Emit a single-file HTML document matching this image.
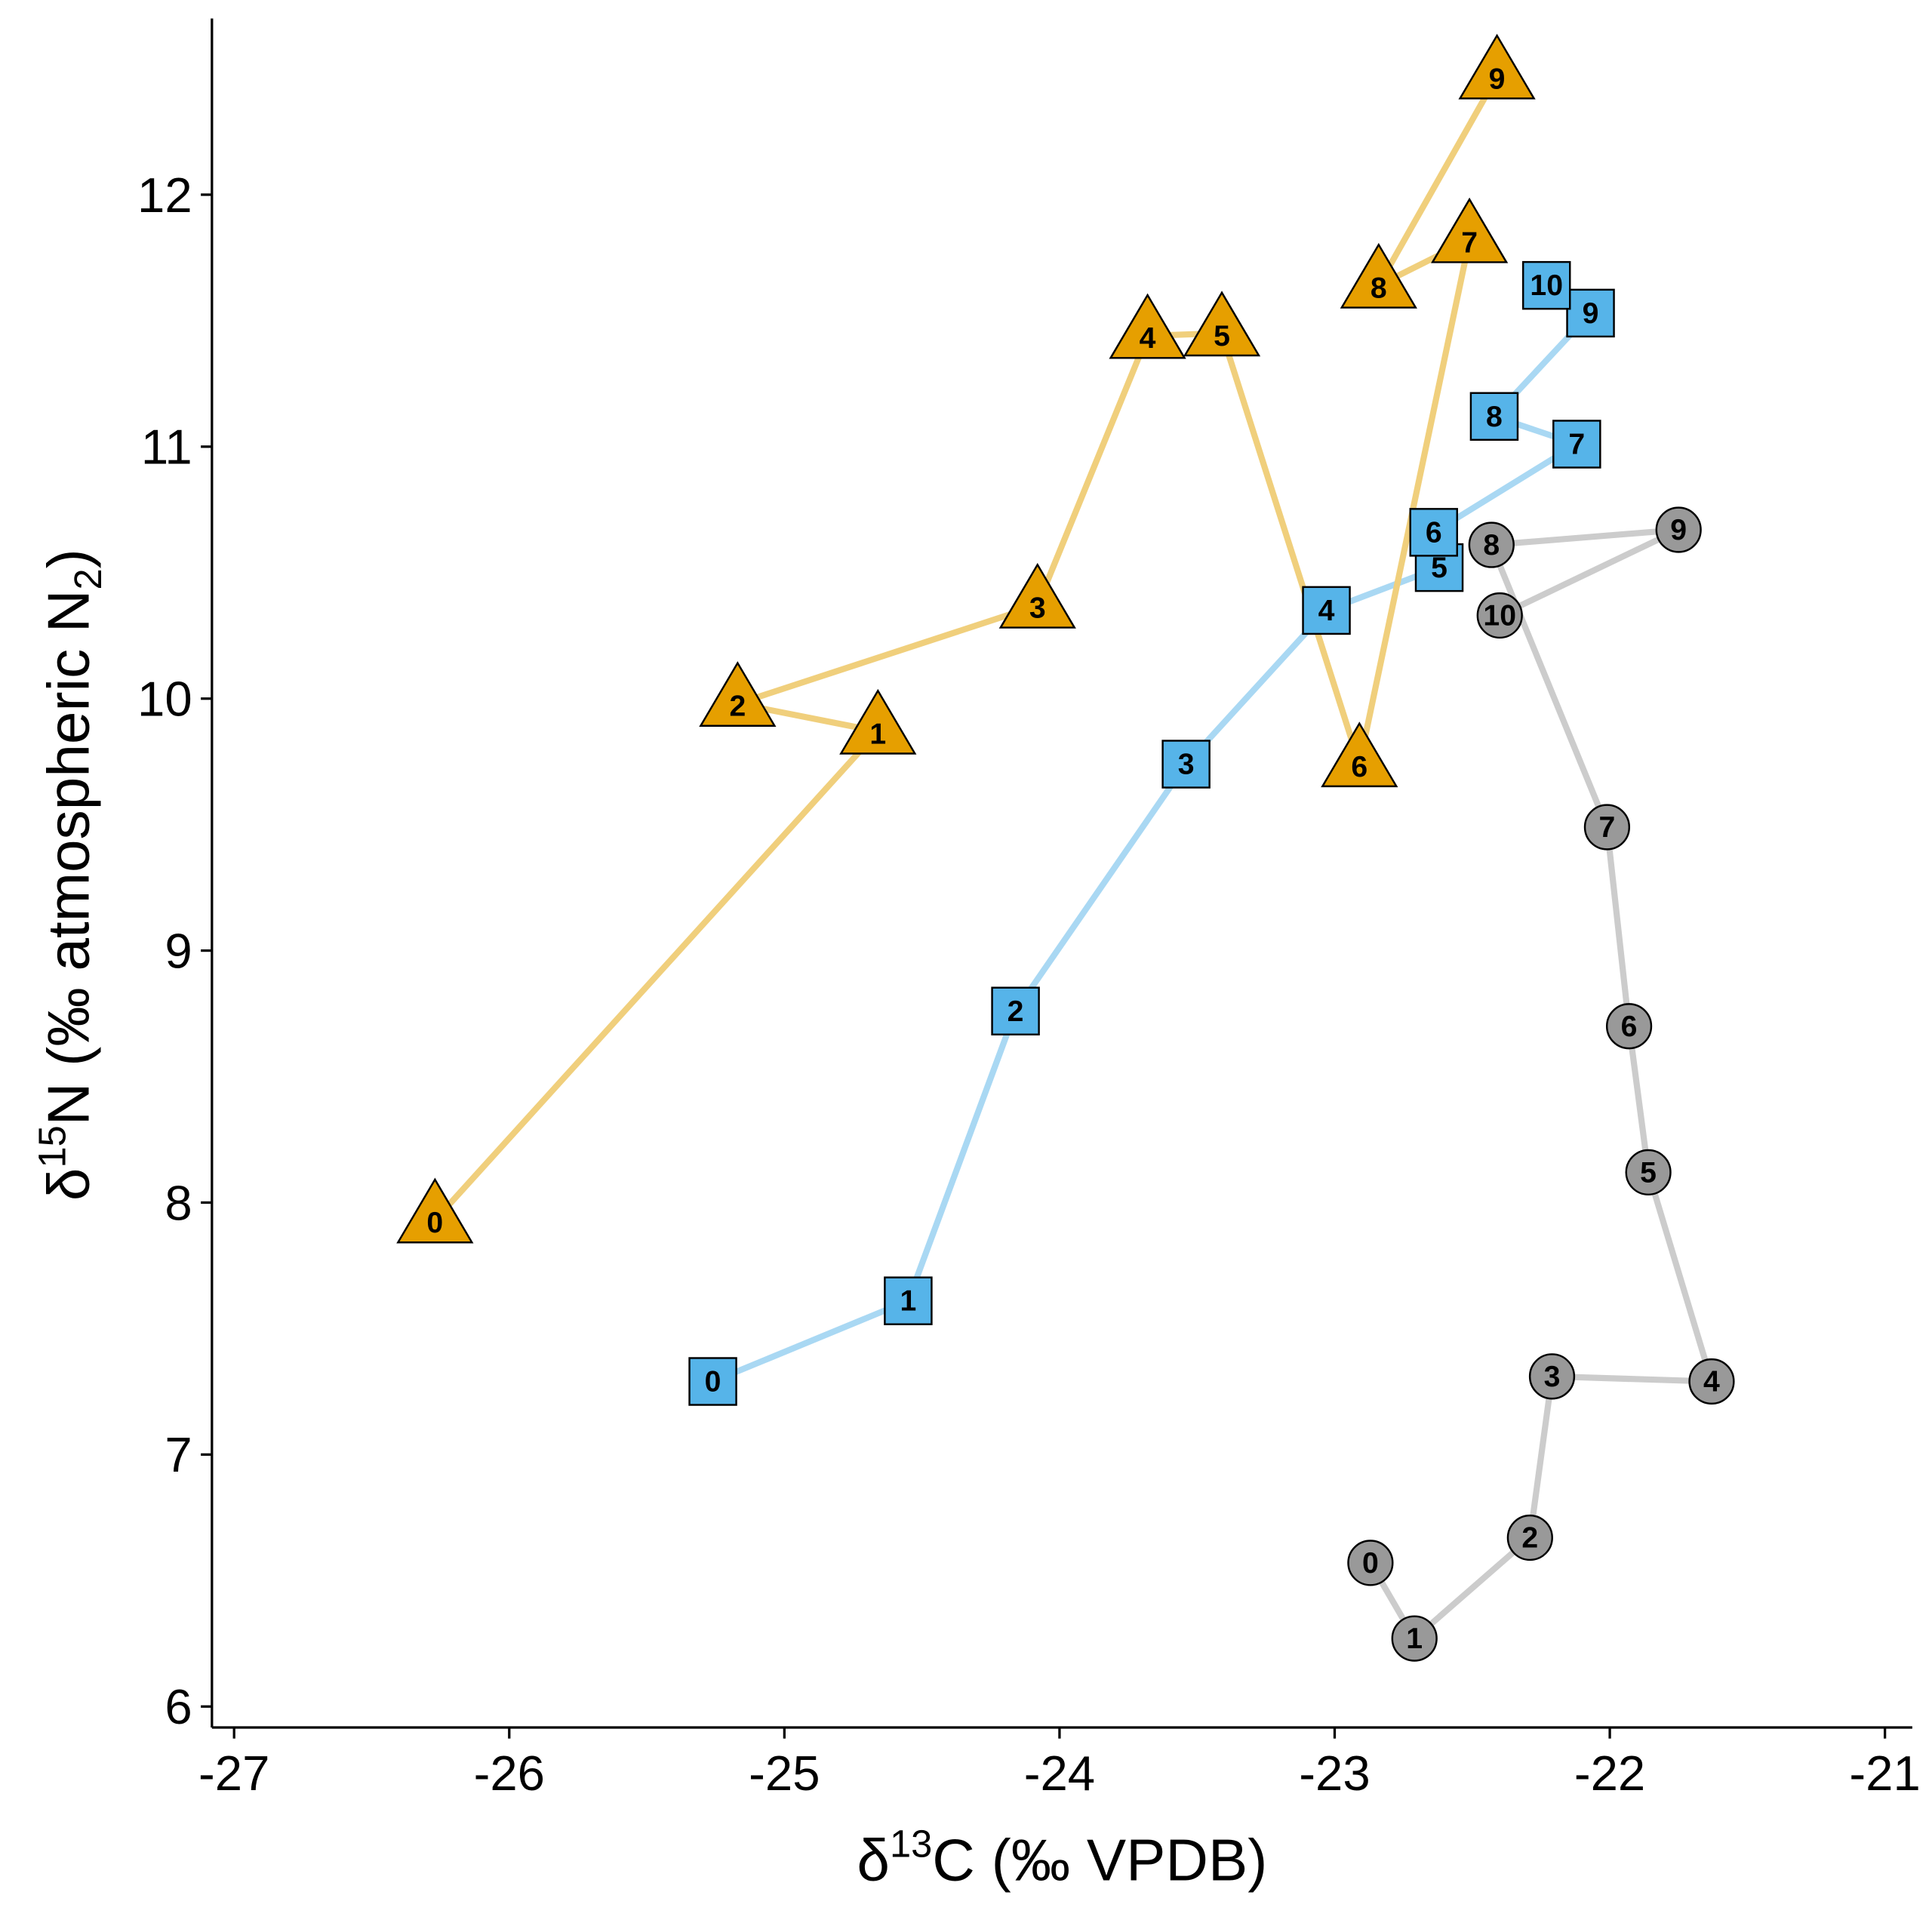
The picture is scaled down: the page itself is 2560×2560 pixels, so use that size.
<!DOCTYPE html>
<html><head><meta charset="utf-8"><style>
html,body{margin:0;padding:0;background:#fff}
svg{display:block}
text{font-family:"Liberation Sans",sans-serif}
</style></head><body>
<svg id="chart" width="2560" height="2560" viewBox="0 0 1568 1568" xmlns="http://www.w3.org/2000/svg">
<g id="lines"></g>
<g id="marks"></g>
<g id="axes"></g>
<text x="862" y="1526" font-size="48" text-anchor="middle">δ<tspan font-size="31" dy="-19">13</tspan><tspan dy="19">C (‰  VPDB)</tspan></text>
<text transform="translate(72,710) rotate(-90)" font-size="48" text-anchor="middle">δ<tspan font-size="31" dy="-19">15</tspan><tspan dy="19">N (‰  atmospheric N</tspan><tspan font-size="31" dy="10">2</tspan><tspan dy="-10">)</tspan></text>
</svg>
<script>
const xTicks=[-27,-26,-25,-24,-23,-22,-21];
const yTicks=[6,7,8,9,10,11,12];
const orangeX=[-26.27,-24.66,-25.17,-24.08,-23.68,-23.41,-22.91,-22.51,-22.84,-22.41];
const orangeY=[7.93,9.87,9.98,10.37,11.44,11.45,9.74,11.82,11.64,12.47];
const blueX=[-25.26,-24.55,-24.16,-23.54,-23.03,-22.62,-22.64,-22.12,-22.42,-22.07,-22.23];
const blueY=[7.29,7.61,8.76,9.74,10.35,10.52,10.66,11.01,11.12,11.53,11.64];
const grayX=[-22.87,-22.71,-22.29,-22.21,-21.63,-21.86,-21.93,-22.01,-22.43,-21.75,-22.40];
const grayY=[6.57,6.27,6.67,7.31,7.29,8.12,8.70,9.49,10.61,10.67,10.33];
const NS='http://www.w3.org/2000/svg';
const sx=v=>190+(v+27)*223.3;
const sy=v=>158+(12-v)*204.5;
function mk(t,a,p){const e=document.createElementNS(NS,t);for(const k in a)e.setAttribute(k,a[k]);p.appendChild(e);return e;}
const L=document.getElementById('lines'),M=document.getElementById('marks'),A=document.getElementById('axes');
function series(xs,ys,lc,fc,shape,name){
  const pl=mk('polyline',{points:xs.map((x,i)=>sx(x)+','+sy(ys[i])).join(' '),fill:'none',stroke:lc,'stroke-width':5},L);
  
  
  xs.forEach((x,i)=>{
    const cx=sx(x),cy=sy(ys[i]);
    const g=mk('g',{},M);
    
    
    let ty=cy+8;
    if(shape==='tri'){mk('polygon',{points:`${cx},${cy-33} ${cx-30},${cy+18} ${cx+30},${cy+18}`,fill:fc,stroke:'#000','stroke-width':1.5},g);ty=cy+10;}
    else if(shape==='sq'){mk('rect',{x:cx-19,y:cy-19,width:38,height:38,fill:fc,stroke:'#000','stroke-width':1.5},g);}
    else{mk('circle',{cx:cx,cy:cy,r:18,fill:fc,stroke:'#000','stroke-width':1.5},g);}
    const t=mk('text',{x:cx,y:ty,'font-size':24,'font-weight':'bold','text-anchor':'middle'},g);t.textContent=i;
  });
}
series(grayX,grayY,'#cccccc','#999999','circ','gray');
series(blueX,blueY,'#a9d8f3','#56b4e9','sq','blue');
series(orangeX,orangeY,'#f0cf7c','#e69f00','tri','orange');
mk('line',{x1:172,y1:15,x2:172,y2:1402,stroke:'#000','stroke-width':2},A);
mk('line',{x1:172,y1:1402,x2:1552,y2:1402,stroke:'#000','stroke-width':2},A);
xTicks.forEach(v=>{mk('line',{x1:sx(v),y1:1402,x2:sx(v),y2:1411,stroke:'#000','stroke-width':2},A);
  const t=mk('text',{x:sx(v),y:1453,'font-size':40,'text-anchor':'middle'},A);t.textContent=v;
  });
yTicks.forEach(v=>{mk('line',{x1:163,y1:sy(v),x2:172,y2:sy(v),stroke:'#000','stroke-width':2},A);
  const t=mk('text',{x:156,y:sy(v)+14,'font-size':40,'text-anchor':'end'},A);t.textContent=v;
  });
</script>
</body></html>
